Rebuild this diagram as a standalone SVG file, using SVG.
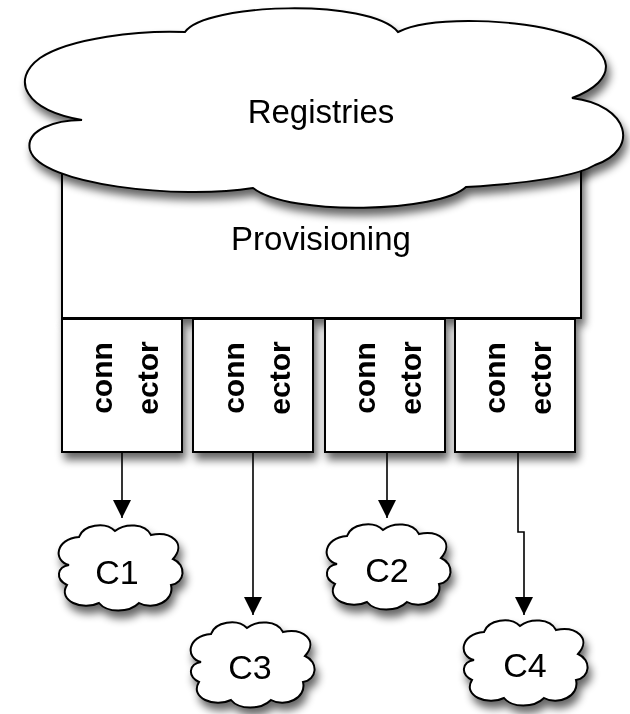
<svg xmlns="http://www.w3.org/2000/svg" xmlns:xlink="http://www.w3.org/1999/xlink" width="630" height="714" viewBox="0 0 630 714">
  <style>
    .shape { fill: #ffffff; stroke: #000000; stroke-width: 2; }
    .label { font-family: "Liberation Sans", Arial, sans-serif; fill: #000000; text-anchor: middle; }
    .big { font-size: 33px; }
    .cloudtxt { font-size: 34px; }
    .vert { font-size: 30px; font-weight: bold; }
    .link { fill: none; stroke: #000000; stroke-width: 1.6; marker-end: url(#arrow); }
  </style>
  <defs>
    <filter id="shadow" x="-20%" y="-20%" width="140%" height="150%">
      <feGaussianBlur in="SourceAlpha" stdDeviation="4"/>
      <feOffset dx="3" dy="7" result="off"/>
      <feComponentTransfer><feFuncA type="linear" slope="0.6"/></feComponentTransfer>
      <feMerge><feMergeNode/><feMergeNode in="SourceGraphic"/></feMerge>
    </filter>
    <marker id="arrow" markerUnits="userSpaceOnUse" markerWidth="18" markerHeight="18" refX="18" refY="9" orient="auto">
      <path d="M0,0 L18,9 L0,18 Z" fill="#000000"/>
    </marker>
    <!-- small cloud outline, about 132 x 90 -->
    <path id="smallCloud" d="M16,44 C0,40 2,18 26,16 C30,4 52,0 62,10 C72,2 92,2 98,14 C118,10 134,22 120,38 C134,44 132,62 118,64 C122,80 100,90 86,82 C76,92 54,92 46,82 C30,90 4,80 14,64 C2,58 4,46 16,44 Z"/>
  </defs>

  <!-- provisioning layer behind the registry cloud -->
  <g id="provisioning" filter="url(#shadow)">
    <rect class="shape" x="62" y="150" width="519" height="168"/>
    <text class="label big" x="321" y="250">Provisioning</text>
  </g>

  <g id="registries" filter="url(#shadow)">
    <path class="shape" d="M82,120 C25,110 10,80 40,58 C70,38 140,30 185,32 C205,3 370,-2 398,32 C430,16 520,18 570,35 C615,50 620,80 572,98 C630,105 640,150 595,165 C570,180 500,185 466,187 C440,212 290,217 253,188 C180,200 40,185 30,150 C25,130 55,120 82,120 Z"/>
    <text class="label big" x="321" y="123">Registries</text>
  </g>

  <!-- connector boxes -->
  <g id="connector1" filter="url(#shadow)">
    <rect class="shape" x="62" y="319" width="120" height="133"/>
    <text class="label vert" transform="translate(112,378) rotate(-90)">conn</text>
    <text class="label vert" transform="translate(158,378) rotate(-90)">ector</text>
  </g>
  <g id="connector2" filter="url(#shadow)">
    <rect class="shape" x="193" y="319" width="120" height="133"/>
    <text class="label vert" transform="translate(244,378) rotate(-90)">conn</text>
    <text class="label vert" transform="translate(290,378) rotate(-90)">ector</text>
  </g>
  <g id="connector3" filter="url(#shadow)">
    <rect class="shape" x="325" y="319" width="120" height="133"/>
    <text class="label vert" transform="translate(375,378) rotate(-90)">conn</text>
    <text class="label vert" transform="translate(421,378) rotate(-90)">ector</text>
  </g>
  <g id="connector4" filter="url(#shadow)">
    <rect class="shape" x="455" y="319" width="120" height="133"/>
    <text class="label vert" transform="translate(505,378) rotate(-90)">conn</text>
    <text class="label vert" transform="translate(551,378) rotate(-90)">ector</text>
  </g>

  <!-- connectors -->
  <g id="links">
    <path class="link" d="M122,453 V518"/>
    <path class="link" d="M253,453 V615"/>
    <path class="link" d="M387,453 V518"/>
    <path class="link" d="M518,453 V532 H524 V615"/>
  </g>

  <!-- target clouds -->
  <g id="C1" filter="url(#shadow)">
    <use xlink:href="#smallCloud" class="shape" transform="translate(53,521)"/>
    <text class="label cloudtxt" x="117" y="584">C1</text>
  </g>
  <g id="C2" filter="url(#shadow)">
    <use xlink:href="#smallCloud" class="shape" transform="translate(321,520)"/>
    <text class="label cloudtxt" x="387" y="582">C2</text>
  </g>
  <g id="C3" filter="url(#shadow)">
    <use xlink:href="#smallCloud" class="shape" transform="translate(185,618)"/>
    <text class="label cloudtxt" x="250" y="679">C3</text>
  </g>
  <g id="C4" filter="url(#shadow)">
    <use xlink:href="#smallCloud" class="shape" transform="translate(458,616)"/>
    <text class="label cloudtxt" x="525" y="677">C4</text>
  </g>
</svg>
